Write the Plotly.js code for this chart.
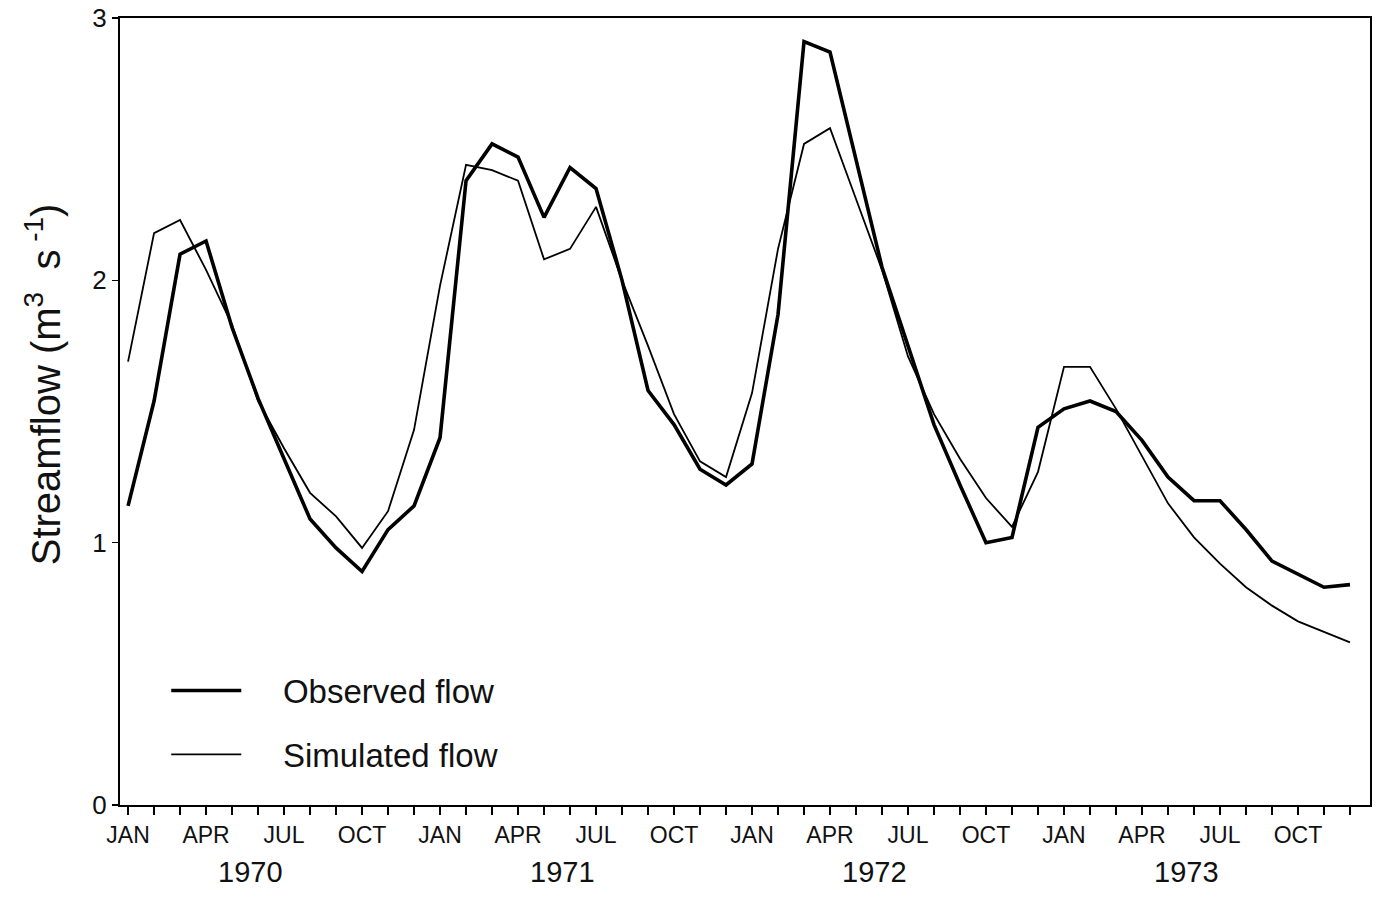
<!DOCTYPE html>
<html>
<head>
<meta charset="utf-8">
<script src="https://cdn.plot.ly/plotly-3.0.1.min.js"></script>
<style>
html,body{margin:0;padding:0;background:#fff;}
#chart{width:1391px;height:899px;}
</style>
</head>
<body>
<div id="chart"></div>
<script>
// Month index 0 = JAN 1970 ... 47 = DEC 1973
const monthNames = ['JAN','FEB','MAR','APR','MAY','JUN','JUL','AUG','SEP','OCT','NOV','DEC'];
const shownMonths = ['JAN','APR','JUL','OCT'];
const years = ['1970','1971','1972','1973'];

const observedFlow = [
  1.14, 1.54, 2.10, 2.15, 1.82, 1.55, 1.32, 1.09, 0.98, 0.89, 1.05, 1.14,
  1.40, 2.38, 2.52, 2.47, 2.24, 2.43, 2.35, 2.00, 1.58, 1.45, 1.28, 1.22,
  1.30, 1.87, 2.91, 2.87, 2.46, 2.05, 1.75, 1.45, 1.22, 1.00, 1.02, 1.44,
  1.51, 1.54, 1.50, 1.39, 1.25, 1.16, 1.16, 1.05, 0.93, 0.88, 0.83, 0.84
];
const simulatedFlow = [
  1.69, 2.18, 2.23, 2.04, 1.83, 1.54, 1.36, 1.19, 1.10, 0.98, 1.12, 1.43,
  1.98, 2.44, 2.42, 2.38, 2.08, 2.12, 2.28, 2.00, 1.75, 1.49, 1.31, 1.25,
  1.57, 2.12, 2.52, 2.58, 2.31, 2.04, 1.71, 1.49, 1.32, 1.17, 1.06, 1.27,
  1.67, 1.67, 1.51, 1.33, 1.15, 1.02, 0.92, 0.83, 0.76, 0.70, 0.66, 0.62
];
const yTicks = [0, 1, 2, 3];

const idx = observedFlow.map((_, i) => i);
const tickText = idx.map(i => {
  const m = monthNames[i % 12];
  return shownMonths.includes(m) ? m : '';
});

const font = 'Liberation Sans, Arial, sans-serif';
const pad = '\u00a0\u00a0\u00a0\u00a0';

const traces = [
  {x: idx, y: observedFlow, type: 'scatter', mode: 'lines', name: pad + 'Observed flow',
   legendgroup: 'a', line: {color: '#000', width: 3.6}},
  {x: idx, y: simulatedFlow, type: 'scatter', mode: 'lines', name: pad + 'Simulated flow',
   legendgroup: 'b', line: {color: '#000', width: 1.8}}
];

const annotations = years.map((yr, k) => ({
  x: 12 * k + 4.7, xref: 'x', y: -0.085, yref: 'paper',
  text: yr, showarrow: false, xanchor: 'center', yanchor: 'middle',
  font: {family: font, size: 29, color: '#111'}
}));
annotations.push({
  x: -0.062, xref: 'paper', y: 0.534, yref: 'paper', textangle: -90,
  text: 'Streamflow (m<sup>3</sup>\u00a0 s<sup>\u00a0-1</sup>)', showarrow: false,
  xanchor: 'center', yanchor: 'middle',
  font: {family: font, size: 40, color: '#111'}
});

const layout = {
  width: 1391, height: 899,
  margin: {l: 120, r: 21, t: 18, b: 94},
  paper_bgcolor: '#fff', plot_bgcolor: '#fff',
  showlegend: true,
  legend: {
    x: 0.037, y: 0.181, xanchor: 'left', yanchor: 'top',
    font: {family: font, size: 33, color: '#111'},
    bgcolor: 'rgba(0,0,0,0)', tracegroupgap: 18, itemwidth: 70
  },
  xaxis: {
    range: [-0.31, 47.77], showgrid: false, zeroline: false,
    showline: true, linecolor: '#000', linewidth: 2, mirror: true,
    tickmode: 'array', tickvals: idx, ticktext: tickText,
    ticks: 'outside', ticklen: 8, tickwidth: 1.5, tickcolor: '#000',
    tickfont: {family: font, size: 23, color: '#111'}
  },
  yaxis: {
    range: [0, 3], showgrid: false, zeroline: false,
    showline: true, linecolor: '#000', linewidth: 2, mirror: true,
    tickmode: 'array', tickvals: yTicks, ticktext: yTicks.map(String),
    ticks: 'outside', ticklen: 6, tickwidth: 1.5, tickcolor: '#000',
    tickfont: {family: font, size: 26, color: '#111'}
  },
  annotations: annotations
};

Plotly.newPlot('chart', traces, layout, {displayModeBar: false, staticPlot: true});
</script>
</body>
</html>
